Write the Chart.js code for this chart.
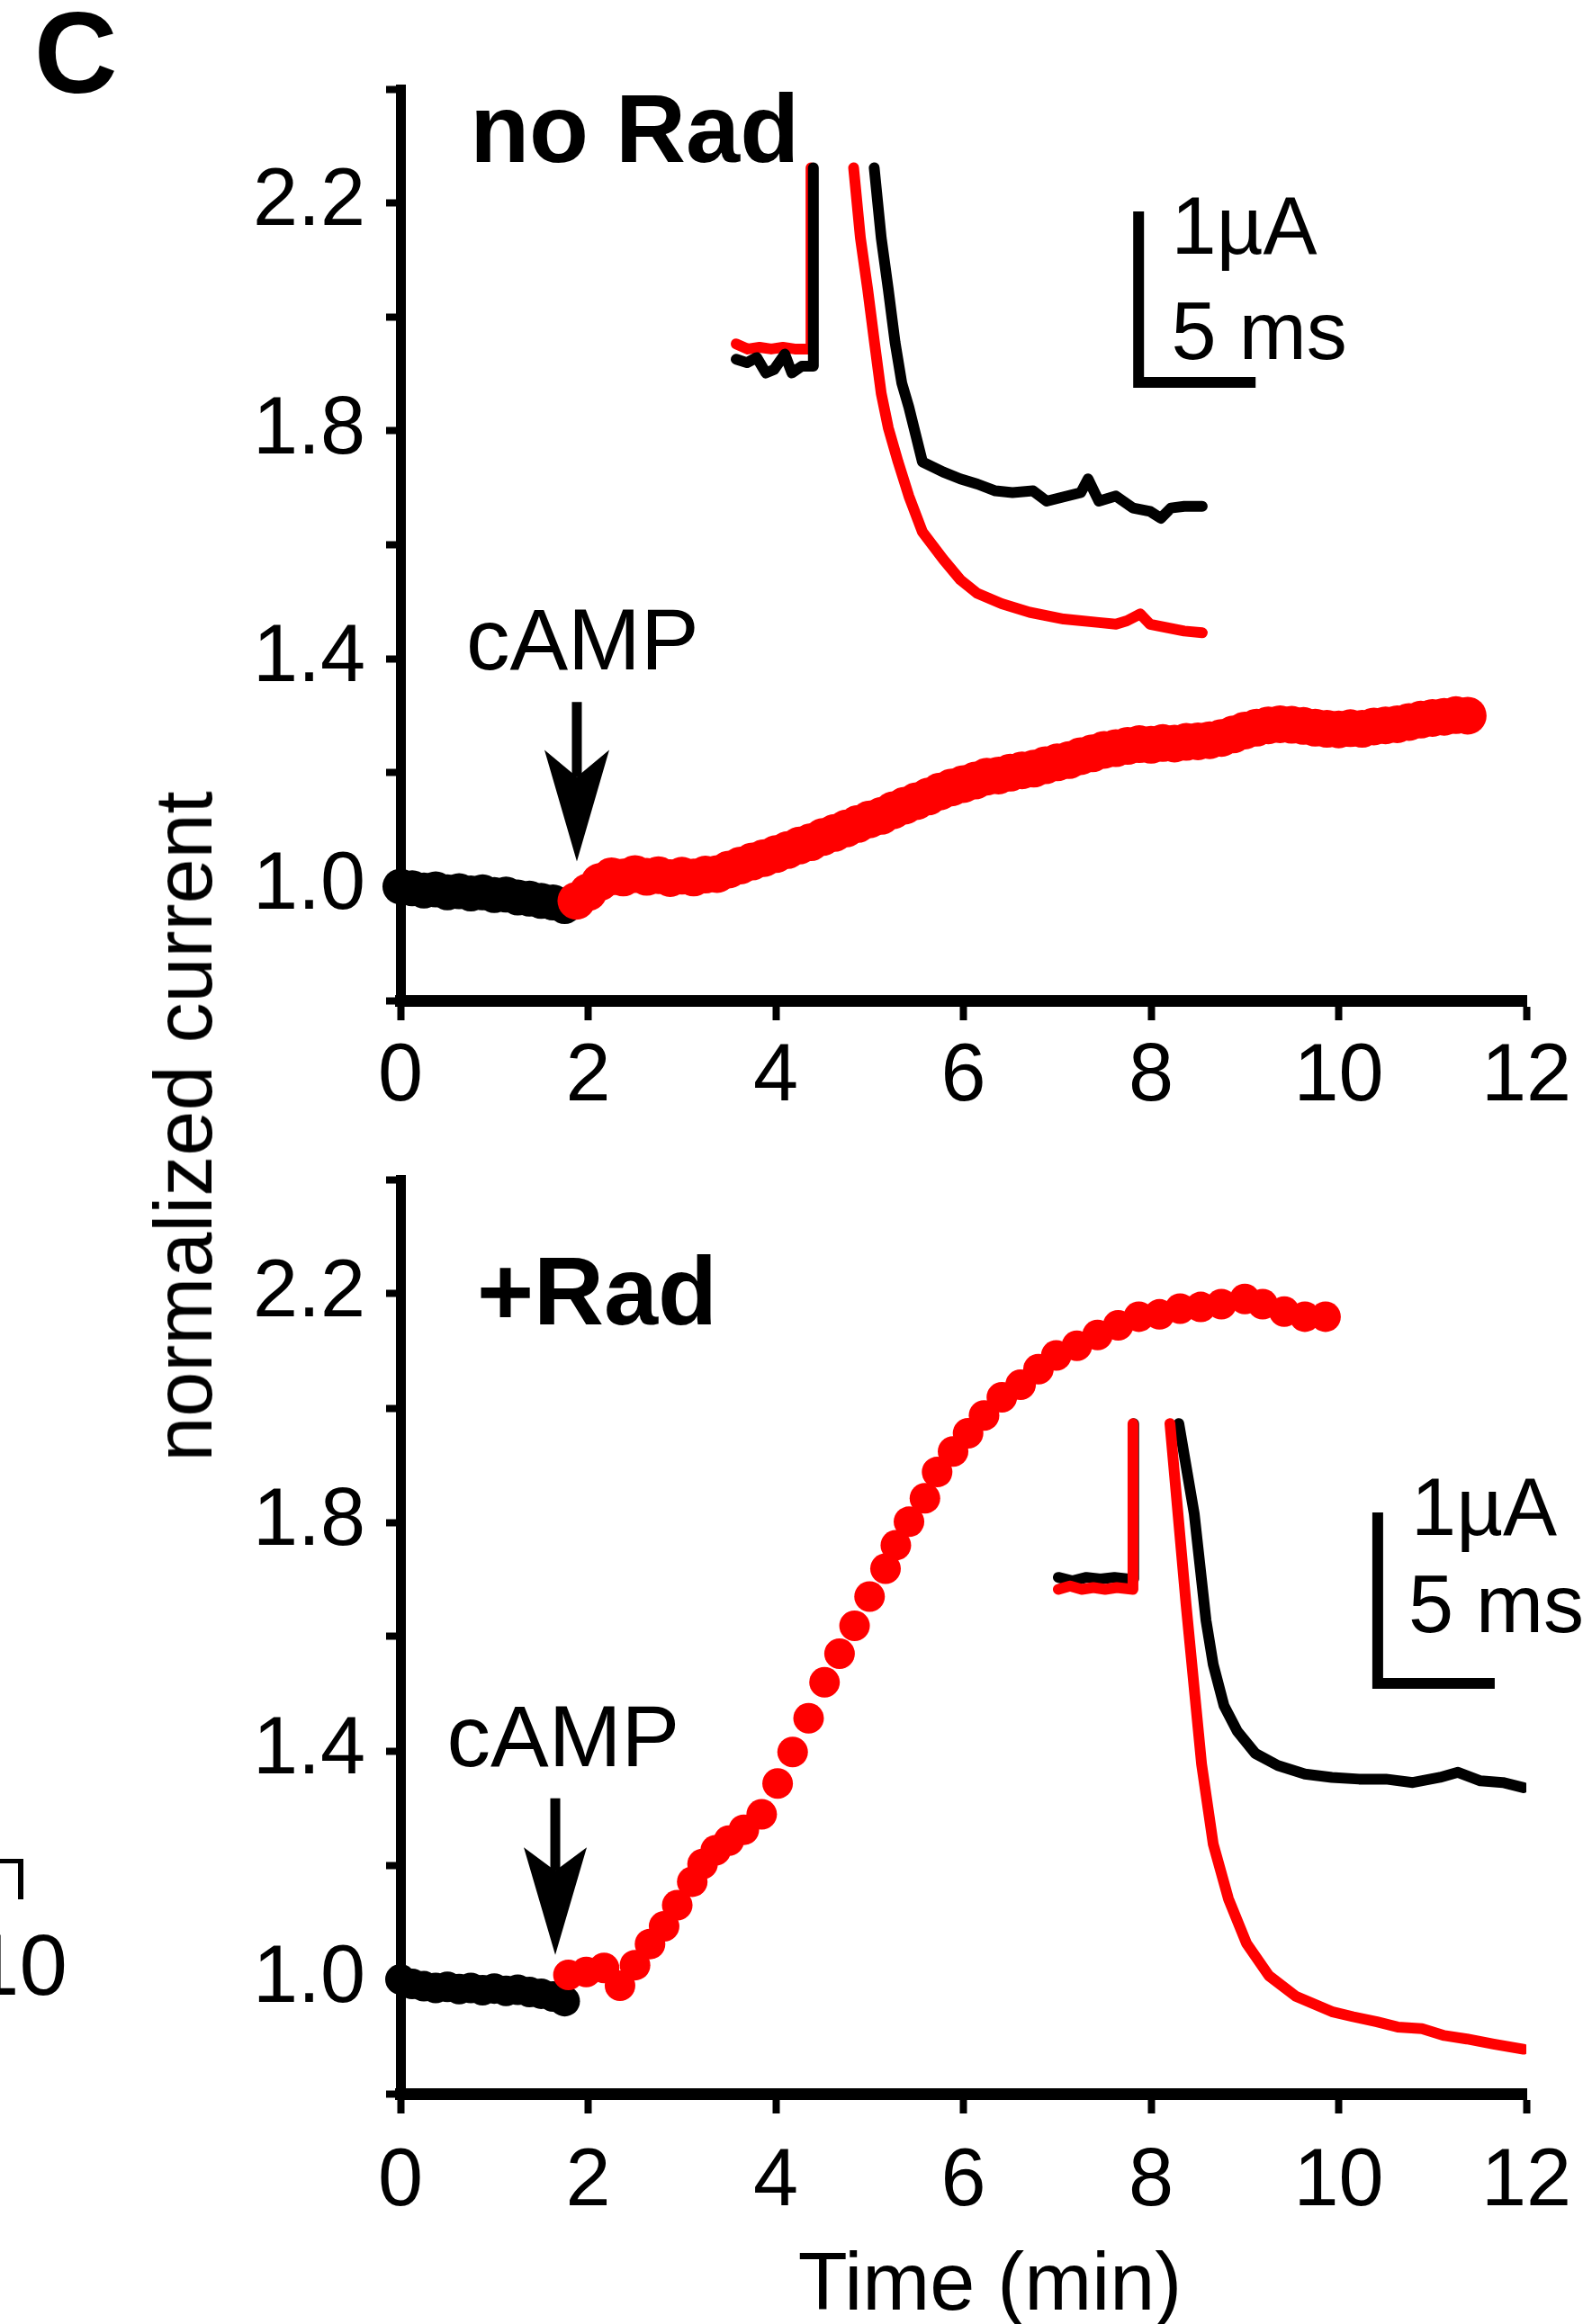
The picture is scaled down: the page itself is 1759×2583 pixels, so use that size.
<!DOCTYPE html>
<html><head><meta charset="utf-8">
<script src="https://cdn.jsdelivr.net/npm/chart.js@4.4.1/dist/chart.umd.min.js"></script>
<style>
html,body{margin:0;padding:0;background:#fff;}
body{width:1759px;height:2583px;position:relative;overflow:hidden;font-family:'Liberation Sans',Arial,Helvetica,sans-serif;}
canvas{position:absolute;left:0;}
#c1{top:0;}
#c2{top:1250px;}
.lab{position:absolute;color:#000;white-space:nowrap;line-height:1;}
#ylab{left:204px;top:1252px;font-size:90px;transform:translate(-50%,-50%) rotate(-90deg);}
#frag10{left:-32px;top:2136px;font-size:96px;}
#bracket{position:absolute;left:-10px;top:2066px;width:30px;height:40px;border-top:5px solid #000;border-right:6px solid #000;}
</style></head><body>
<canvas id="c1" width="1759" height="1250"></canvas>
<canvas id="c2" width="1759" height="1333"></canvas>
<div class="lab" id="ylab">normalized current</div>
<div class="lab" id="frag10">10</div>
<div id="bracket"></div>
<script>
// ---------- axis ticks ----------
const xTickValues = [0, 2, 4, 6, 8, 10, 12];
const yTickValues = [0.8, 1.0, 1.2, 1.4, 1.6, 1.8, 2.0, 2.2, 2.4];
const yLabelValues = [1.0, 1.4, 1.8, 2.2];

// ---------- top panel (no Rad): time (min) / normalized current ----------
const timeTopBlack = [0, 0.125, 0.25, 0.375, 0.5, 0.625, 0.75, 0.875, 1.0, 1.125, 1.25, 1.375, 1.5, 1.625, 1.75];
const valTopBlack  = [1.000, 0.997, 0.993, 0.995, 0.990, 0.992, 0.988, 0.990, 0.985, 0.986, 0.981, 0.979, 0.975, 0.972, 0.966];
const timeTopRed = [1.875, 2.0, 2.125, 2.25, 2.375, 2.5, 2.625, 2.75, 2.875, 3.0,
  3.125, 3.25, 3.375, 3.5, 3.625, 3.75, 3.875, 4.0, 4.125, 4.25,
  4.375, 4.5, 4.625, 4.75, 4.875, 5.0, 5.125, 5.25, 5.375, 5.5,
  5.625, 5.75, 5.875, 6.0, 6.125, 6.25, 6.375, 6.5, 6.625, 6.75,
  6.875, 7.0, 7.125, 7.25, 7.375, 7.5, 7.625, 7.75, 7.875, 8.0,
  8.125, 8.25, 8.375, 8.5, 8.625, 8.75, 8.875, 9.0, 9.125, 9.25,
  9.375, 9.5, 9.625, 9.75, 9.875, 10.0, 10.125, 10.25, 10.375, 10.5,
  10.625, 10.75, 10.875, 11.0, 11.125, 11.25, 11.375];
const valTopRed = [0.975, 0.990, 1.008, 1.018, 1.016, 1.022, 1.017, 1.020, 1.015, 1.019,
  1.016, 1.021, 1.022, 1.030, 1.037, 1.044, 1.050, 1.057, 1.064, 1.072,
  1.078, 1.087, 1.094, 1.102, 1.110, 1.118, 1.124, 1.134, 1.142, 1.150,
  1.158, 1.167, 1.174, 1.180, 1.186, 1.193, 1.195, 1.200, 1.204, 1.207,
  1.213, 1.218, 1.222, 1.229, 1.234, 1.240, 1.243, 1.247, 1.250, 1.249,
  1.252, 1.251, 1.254, 1.255, 1.257, 1.261, 1.267, 1.274, 1.279, 1.283,
  1.285, 1.284, 1.282, 1.279, 1.277, 1.276, 1.278, 1.277, 1.281, 1.283,
  1.285, 1.289, 1.293, 1.296, 1.298, 1.301, 1.300];

// ---------- bottom panel (+Rad) ----------
const timeBotBlack = [0, 0.125, 0.25, 0.375, 0.5, 0.625, 0.75, 0.875, 1.0, 1.125, 1.25, 1.375, 1.5, 1.625, 1.75];
const valBotBlack  = [1.000, 0.992, 0.988, 0.985, 0.987, 0.983, 0.985, 0.981, 0.984, 0.980, 0.982, 0.978, 0.975, 0.970, 0.962];
const timeBotRed = [1.79, 1.98, 2.17, 2.34, 2.5, 2.66, 2.81, 2.95, 3.11, 3.22,
  3.36, 3.5, 3.66, 3.85, 4.02, 4.18, 4.35, 4.52, 4.68, 4.84,
  5.0, 5.17, 5.28, 5.42, 5.59, 5.72, 5.89, 6.05, 6.22, 6.41,
  6.61, 6.8, 6.99, 7.21, 7.43, 7.65, 7.87, 8.09, 8.31, 8.53,
  8.75, 9.0, 9.19, 9.42, 9.64, 9.86];
const valBotRed = [1.008, 1.013, 1.020, 0.989, 1.025, 1.062, 1.093, 1.130, 1.171, 1.202,
  1.226, 1.243, 1.262, 1.289, 1.343, 1.398, 1.457, 1.520, 1.570, 1.619,
  1.670, 1.719, 1.760, 1.801, 1.842, 1.888, 1.924, 1.956, 1.987, 2.019,
  2.041, 2.068, 2.092, 2.109, 2.128, 2.145, 2.160, 2.164, 2.174, 2.177,
  2.182, 2.191, 2.182, 2.169, 2.160, 2.160];

// ---------- inset current traces: time (ms) / current (µA), null = off-scale ----------
const insetTopBlackT = [0, 0.46, 0.88, 1.27, 1.62, 2.08, 2.38, 2.81, 3.27, 3.3, 3.3,
  5.9, 6.2, 6.5, 6.79, 7.08, 7.38, 7.67, 7.96, 8.85, 9.58, 10.31, 11.08, 11.81, 12.69, 13.27,
  14.15, 14.73, 15.04, 15.5, 16.23, 16.96, 17.69, 18.15, 18.58, 19.15, 19.92];
const insetTopBlackI = [0.03, 0.01, 0.04, -0.05, -0.03, 0.06, -0.05, -0.01, -0.01, 1.15, null,
  1.15, 0.74, 0.44, 0.13, -0.11, -0.25, -0.41, -0.57, -0.63, -0.67, -0.70, -0.74, -0.75, -0.74, -0.80,
  -0.77, -0.75, -0.67, -0.80, -0.77, -0.84, -0.86, -0.90, -0.84, -0.83, -0.83];
const insetTopRedT = [0, 0.5, 1.0, 1.5, 2.0, 2.5, 2.88, 3.2, 3.2, 3.2,
  5.02, 5.31, 5.62, 5.91, 6.2, 6.5, 6.92, 7.38, 7.96, 8.85, 9.58, 10.31, 11.35, 12.54, 14.0,
  15.5, 16.23, 16.7, 17.27, 17.69, 18.42, 19.15, 19.92];
const insetTopRedI = [0.12, 0.09, 0.10, 0.09, 0.10, 0.09, 0.09, 0.09, 1.15, null,
  1.15, 0.74, 0.44, 0.13, -0.17, -0.37, -0.57, -0.77, -0.98, -1.14, -1.26, -1.34, -1.40, -1.45, -1.49,
  -1.51, -1.52, -1.50, -1.46, -1.52, -1.54, -1.56, -1.57];
const insetBotRedT = [0, 0.5, 1.0, 1.5, 2.0, 2.5, 3.19, 3.19, 3.19,
  4.77, 5.46, 6.12, 6.62, 7.27, 8.04, 9.0, 10.15, 11.69, 12.6, 13.62, 14.5, 15.54, 16.5, 17.46, 18.6, 19.88];
const insetBotRedI = [-0.05, -0.03, -0.05, -0.04, -0.05, -0.04, -0.05, 0.92, null,
  0.92, -0.14, -1.07, -1.54, -1.86, -2.12, -2.31, -2.43, -2.52, -2.55, -2.58, -2.61, -2.62, -2.66, -2.68, -2.71, -2.74];
const insetBotBlackT = [0, 0.6, 1.2, 1.8, 2.4, 3.0, 3.22, 3.22, 3.22,
  5.15, 5.81, 6.31, 6.62, 7.08, 7.65, 8.42, 9.38, 10.54, 11.69, 12.85, 14.0, 15.15, 16.31, 17.08, 18.04, 19.0, 19.88];
const insetBotBlackI = [0.02, 0.0, 0.02, 0.01, 0.02, 0.01, 0.01, 0.92, null,
  0.92, 0.39, -0.23, -0.49, -0.73, -0.88, -1.01, -1.08, -1.13, -1.15, -1.16, -1.16, -1.18, -1.15, -1.12, -1.17, -1.18, -1.21];

// scale bars: 1 µA vertical, 5 ms horizontal
const scaleBarTopT = [17.2, 17.2, 22.2];
const scaleBarTopI = [0.895, -0.105, -0.105];
const scaleBarBotT = [13.65, 13.65, 18.65];
const scaleBarBotI = [0.4, -0.6, -0.6];

// ---------- rendering ----------
const FONT = "'Liberation Sans', Arial, Helvetica, sans-serif";
const RED = '#ff0000', BLACK = '#000000';

function pts(T, V) { return T.map((t, i) => ({x: t, y: V[i]})); }

const annotPlugin = {
  id: 'annot',
  afterDatasetsDraw(chart, args, o) {
    const ctx = chart.ctx;
    const sx = chart.scales.x, sy = chart.scales.y, xi = chart.scales.xi, yi = chart.scales.yi;
    ctx.save();
    ctx.fillStyle = '#000';
    ctx.textBaseline = 'alphabetic';
    (o.texts || []).forEach(t => {
      ctx.font = t.font;
      ctx.textAlign = t.align || 'left';
      let X, Y;
      if (t.scale === 'inset') { X = xi.getPixelForValue(t.x); Y = yi.getPixelForValue(t.y); }
      else if (t.scale === 'pixel') { X = t.x; Y = t.y; }
      else { X = sx.getPixelForValue(t.x); Y = sy.getPixelForValue(t.y); }
      ctx.fillText(t.text, X, Y);
    });
    (o.arrows || []).forEach(a => {
      const cx = sx.getPixelForValue(a.x);
      const y0 = sy.getPixelForValue(a.yTop);
      const yh = sy.getPixelForValue(a.yHead);
      const yt = sy.getPixelForValue(a.yTip);
      ctx.fillRect(cx - a.shaft / 2, y0, a.shaft, yh + a.notch - y0);
      ctx.beginPath();
      ctx.moveTo(cx - a.half, yh);
      ctx.lineTo(cx, yt);
      ctx.lineTo(cx + a.half, yh);
      ctx.lineTo(cx, yh + a.notch);
      ctx.closePath();
      ctx.fill();
    });
    ctx.restore();
  }
};

function mainPoints(T, V, color, r) {
  return {data: pts(T, V), showLine: false, pointRadius: r, pointHoverRadius: r, pointBorderWidth: 0,
    pointBackgroundColor: color, backgroundColor: color, borderColor: color, borderWidth: 0,
    clip: false, xAxisID: 'x', yAxisID: 'y'};
}
function trace(T, V, color, width, cap) {
  return {data: pts(T, V), showLine: true, pointRadius: 0, pointHoverRadius: 0, borderColor: color, backgroundColor: color,
    borderWidth: width, fill: false, spanGaps: false, tension: 0,
    borderCapStyle: cap || 'round', borderJoinStyle: cap === 'butt' ? 'miter' : 'round',
    xAxisID: 'xi', yAxisID: 'yi'};
}

function panel(id, cfg) {
  return new Chart(document.getElementById(id), {
    type: 'scatter',
    data: {datasets: cfg.datasets},
    options: {
      responsive: false, animation: false, devicePixelRatio: 1, events: [],
      layout: {autoPadding: false, padding: {left: 0, right: 63, top: cfg.padTop, bottom: 0}},
      plugins: {legend: {display: false}, tooltip: {enabled: false}, annot: cfg.annot},
      scales: {
        x: {type: 'linear', position: 'bottom', min: 0, max: 12,
          afterBuildTicks: s => { s.ticks = xTickValues.map(v => ({value: v})); },
          afterFit: s => { s.height = cfg.xAxisH; s.paddingLeft = 0; s.paddingRight = 0; },
          ticks: {color: '#000', font: {family: FONT, size: 90}, padding: cfg.xPad, maxRotation: 0, minRotation: 0,
            autoSkip: false, callback: v => String(v)},
          grid: {drawOnChartArea: false, drawTicks: true, tickLength: 22, tickWidth: 8, tickColor: '#000', color: '#000'},
          border: {display: true, color: '#000', width: 13}},
        y: {type: 'linear', position: 'left', min: 0.8, max: 2.4,
          afterBuildTicks: s => { s.ticks = yTickValues.map(v => ({value: v})); },
          afterFit: s => { s.width = 445; s.paddingTop = 0; s.paddingBottom = 0; },
          ticks: {color: '#000', font: {family: FONT, size: 90}, padding: 23, autoSkip: false,
            callback: v => yLabelValues.some(l => Math.abs(l - v) < 1e-6) ? Number(v).toFixed(1) : ''},
          grid: {drawOnChartArea: false, drawTicks: true, tickLength: 16, tickWidth: 8, tickColor: '#000', color: '#000'},
          border: {display: true, color: '#000', width: 11}},
        xi: {type: 'linear', axis: 'x', display: false, min: cfg.xi[0], max: cfg.xi[1]},
        yi: {type: 'linear', axis: 'y', display: false, min: cfg.yi[0], max: cfg.yi[1]}
      }
    },
    plugins: [annotPlugin]
  });
}

// top panel
panel('c1', {
  padTop: 99, xAxisH: 138, xPad: 10,
  xi: [-14.346, 33.769], yi: [-3.7211, 1.6105],
  datasets: [
    mainPoints(timeTopRed, valTopRed, RED, 21),
    mainPoints(timeTopBlack, valTopBlack, BLACK, 20),
    trace(scaleBarTopT, scaleBarTopI, BLACK, 12, 'butt'),
    trace(insetTopBlackT, insetTopBlackI, BLACK, 12),
    trace(insetTopRedT, insetTopRedI, RED, 12)
  ],
  annot: {
    texts: [
      {text: 'C', scale: 'pixel', x: 38, y: 103, font: 'bold 128px ' + FONT},
      {text: 'no Rad', x: 0.74, y: 2.272, font: 'bold 108px ' + FONT},
      {text: 'cAMP', x: 1.94, y: 1.381, font: '97px ' + FONT, align: 'center'},
      {text: '1µA', scale: 'inset', x: 18.6, y: 0.647, font: '90px ' + FONT},
      {text: '5 ms', scale: 'inset', x: 18.6, y: 0.03, font: '90px ' + FONT}
    ],
    arrows: [{x: 1.88, yTop: 1.324, yHead: 1.24, yTip: 1.044, shaft: 11, half: 36, notch: 30}]
  }
});

// bottom panel
panel('c2', {
  padTop: 61, xAxisH: 256, xPad: 23,
  xi: [-28.115, 20.0], yi: [-3.0, 2.347],
  datasets: [
    mainPoints(timeBotRed, valBotRed, RED, 17),
    mainPoints(timeBotBlack, valBotBlack, BLACK, 17),
    trace(scaleBarBotT, scaleBarBotI, BLACK, 12, 'butt'),
    trace(insetBotRedT, insetBotRedI, RED, 12),
    trace(insetBotBlackT, insetBotBlackI, BLACK, 12)
  ],
  annot: {
    texts: [
      {text: '+Rad', x: 0.815, y: 2.146, font: 'bold 108px ' + FONT},
      {text: 'cAMP', x: 1.735, y: 1.373, font: '97px ' + FONT, align: 'center'},
      {text: '1µA', scale: 'inset', x: 15.08, y: 0.27, font: '90px ' + FONT},
      {text: '5 ms', scale: 'inset', x: 14.96, y: -0.3, font: '90px ' + FONT},
      {text: 'Time (min)', scale: 'pixel', x: 1100, y: 1317, font: '90px ' + FONT, align: 'center'}
    ],
    arrows: [{x: 1.65, yTop: 1.317, yHead: 1.231, yTip: 1.043, shaft: 11, half: 35, notch: 26}]
  }
});
</script>
</body></html>
